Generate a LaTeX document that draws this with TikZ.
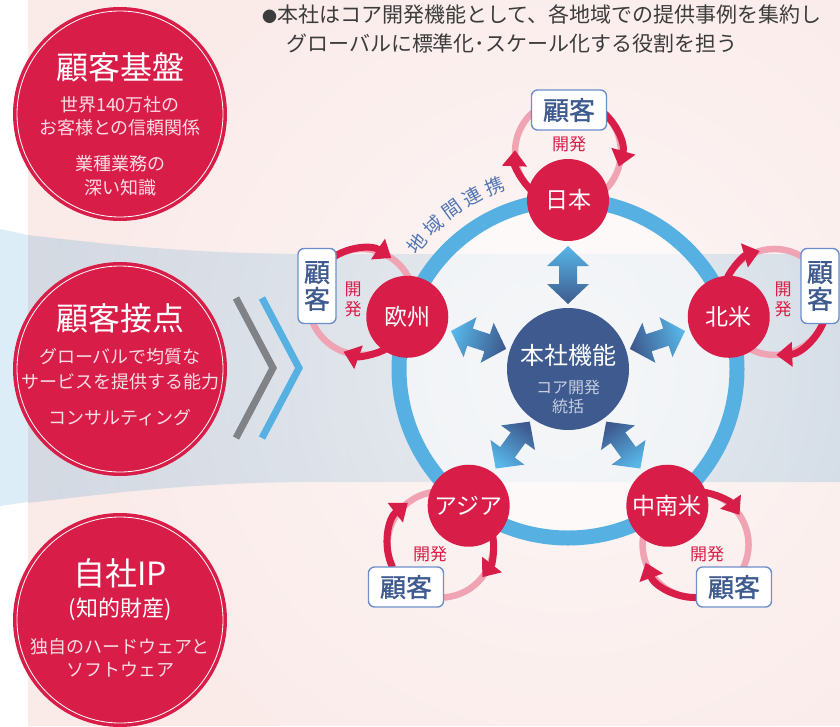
\documentclass[tikz,border=0pt]{standalone}
\usepackage{fontspec}
\setmainfont{Noto Sans CJK JP}
\newfontfamily\boxfont{Noto Sans CJK JP}[FakeBold=1.2]
\usetikzlibrary{arrows.meta,fadings,calc}
\definecolor{crimson}{HTML}{D81E48}
\definecolor{pinkbg}{HTML}{FAEAE8}
\definecolor{ringblue}{HTML}{56B1E2}
\definecolor{navy}{HTML}{3E5A8E}
\definecolor{loopink}{HTML}{EFA3B3}
\definecolor{lightblue}{HTML}{DCEDF8}
\definecolor{boxborder}{HTML}{6E8FCB}
\definecolor{chevgray}{HTML}{808285}
\definecolor{subpink}{HTML}{F9DCE3}
\definecolor{centersub}{HTML}{C5CFE2}
\definecolor{arcblue}{HTML}{5275B4}
\definecolor{topgray}{HTML}{3C3C3C}
\definecolor{bandL}{HTML}{D4D9E2}
\definecolor{bandR}{HTML}{C6D1DE}
\definecolor{arrL}{HTML}{58B6E8}
\definecolor{arrD}{HTML}{3E5A8E}
\tikzfading[name=glowfade, inner color=transparent!0, outer color=transparent!100]
\begin{document}
\begin{tikzpicture}[x=1pt,y=1pt,
  bigcirc/.style={circle, fill=crimson, minimum size=214pt, inner sep=0pt},
  bigtitle/.style={text=white, inner sep=0pt, font=\fontsize{32}{34}\selectfont},
  bigsub/.style={text=subpink, inner sep=0pt, font=\fontsize{18}{20}\selectfont},
  region/.style={circle, fill=crimson, minimum size=82pt, inner sep=0pt, text=white, font=\fontsize{23}{23}\selectfont},
  kbox/.style={draw=boxborder, line width=1.4pt, fill=white, rounded corners=6pt, inner sep=0pt, text=navy, align=center, font=\boxfont\fontsize{26}{27}\selectfont},
  hbox/.style={kbox, minimum width=75pt, minimum height=40pt},
  vbox/.style={kbox, minimum width=38pt, minimum height=75pt},
  kaihatsu/.style={text=crimson, inner sep=0pt, align=center, font=\fontsize{17}{20}\selectfont},
  pinkloop/.style={loopink, line width=6.5pt},
  redarc/.style={crimson, line width=7pt, -{Triangle[width=24pt,length=16pt]}},
  chevron/.style={line width=7pt},
  toptext/.style={text=topgray, anchor=west, inner sep=0pt, font=\fontsize{21}{21}\selectfont},
  ringchar/.style={text=arcblue, inner sep=0pt, font=\fontsize{19}{19}\selectfont}
]
\useasboundingbox (0,0) rectangle (840,-726);
\begin{scope}
\clip (0,0) rectangle (840,-726);
% backgrounds
\fill[white] (0,0) rectangle (840,-726);
\fill[pinkbg] (28,0) rectangle (840,-726);
\fill[lightblue] (0,-229) -- (28,-235) -- (28,-502) -- (0,-506) -- cycle;
\shade[left color=bandL, right color=bandR] (28,-235) .. controls (120,-246) and (200,-254) .. (320,-254) -- (840,-254) -- (840,-482) -- (320,-482) .. controls (200,-482) and (120,-492) .. (28,-503) -- cycle;
\coordinate (C) at (568,-369);
\fill[white, path fading=glowfade, fill opacity=0.6] (C) circle (540);
\fill[white, fill opacity=0.55] (C) circle (169);

% top text
\node[toptext] (t1) at (262,-14) {{\fontsize{15}{15}\selectfont ●}本社はコア開発機能として、各地域での提供事例を集約し};
\node[toptext] (t2) at (286,-43) {グローバルに標準化･スケール化する役割を担う};

% left circles
\node[bigcirc] (c1) at (120,-114) {};
\draw[white, line width=0.8pt] (c1.center) circle (103);
\node[bigtitle] (c1t) at (120,-67) {顧客基盤};
\node[bigsub] (c1a) at (120,-105) {世界140万社の};
\node[bigsub] (c1b) at (120,-128) {お客様との信頼関係};
\node[bigsub] (c1c) at (120,-164) {業種業務の};
\node[bigsub] (c1d) at (120,-188) {深い知識};

\node[bigcirc] (c2) at (120,-369) {};
\draw[white, line width=0.8pt] (c2.center) circle (103);
\node[bigtitle] (c2t) at (120,-318) {顧客接点};
\node[bigsub] (c2a) at (120,-357) {グローバルで均質な};
\node[bigsub] (c2b) at (120,-382) {サービスを提供する能力};
\node[bigsub] (c2c) at (120,-418) {コンサルティング};

\node[bigcirc] (c3) at (120,-620) {};
\draw[white, line width=0.8pt] (c3.center) circle (103);
\node[bigtitle] (c3t) at (120,-573) {自社IP};
\node[bigtitle, font=\fontsize{22}{24}\selectfont] (c3s) at (120,-609) {(知的財産)};
\node[bigsub] (c3a) at (120,-647) {独自のハードウェアと};
\node[bigsub] (c3b) at (120,-670) {ソフトウェア};

% chevrons
\draw[chevron, chevgray] (236,-298) -- (273,-368) -- (236,-438);
\draw[chevron, ringblue] (262,-298) -- (299,-368) -- (262,-438);

% ring
\draw[ringblue, line width=15pt] (C) circle (169);

% ring text
\foreach \ch/\ang [count=\i] in {地/140.3, 域/133.2, 間/126.1, 連/119.0, 携/112.0} {
  \node[ringchar, rotate=\ang-90] (rt\i) at ($(C)+(\ang:197)$) {\ch};
}

% double arrows hub <-> regions
\foreach \a [count=\i] in {90,18,162,234,306} {
  \pgfmathsetmacro\sa{\a-90}
  \shade[top color=arrL, bottom color=arrD, shading angle=\sa, shift={(C)}, rotate=\a]
    (65,0) -- (85,21) -- (85,9) -- (103,9) -- (103,21) -- (123,0) -- (103,-21) -- (103,-9) -- (85,-9) -- (85,-21) -- cycle;
}

% loops
\foreach \n/\p/\sa/\ea/\sb/\eb in {jp/90/228/178/58/-16, na/18/156/106/-14/-88, eu/162/300/250/130/56, as/234/372/322/205/128, la/306/444/394/275/200} {
  \coordinate (L\n) at ($(C)+(\p:217)$);
  \draw[pinkloop] (L\n) circle (53);
  \draw[redarc] ([shift={(\sa:53)}]L\n) arc[start angle=\sa, end angle=\ea, radius=53];
  \draw[redarc] ([shift={(\sb:53)}]L\n) arc[start angle=\sb, end angle=\eb, radius=53];
}

% center hub
\node[circle, fill=navy, minimum size=122pt, inner sep=0pt] (hq) at (C) {};
\node[text=white, inner sep=0pt, font=\fontsize{24}{24}\selectfont] (hqt) at (568,-355) {本社機能};
\node[text=centersub, inner sep=0pt, font=\fontsize{16}{16}\selectfont] (hqa) at (568,-387) {コア開発};
\node[text=centersub, inner sep=0pt, font=\fontsize{16}{16}\selectfont] (hqb) at (568,-406) {統括};

% regions
\node[region] (jp) at ($(C)+(90:169)$) {日本};
\node[region] (na) at ($(C)+(18:169)$) {北米};
\node[region] (eu) at ($(C)+(162:169)$) {欧州};
\node[region] (as) at ($(C)+(234:169)$) {アジア};
\node[region] (la) at ($(C)+(306:169)$) {中南米};

% customer boxes
\node[hbox] (kjp) at (569,-110) {顧客};
\node[vbox] (kna) at (820,-286) {顧\\客};
\node[vbox] (keu) at (317,-286) {顧\\客};
\node[hbox] (kas) at (406,-587) {顧客};
\node[hbox] (kla) at (734,-587) {顧客};

% development labels
\node[kaihatsu] (djp) at (569,-144) {開発};
\node[kaihatsu] (dna) at (783,-299) {開\\発};
\node[kaihatsu] (deu) at (353,-299) {開\\発};
\node[kaihatsu] (das) at (430,-554) {開発};
\node[kaihatsu] (dla) at (707,-554) {開発};
\end{scope}
\end{tikzpicture}
\end{document}
